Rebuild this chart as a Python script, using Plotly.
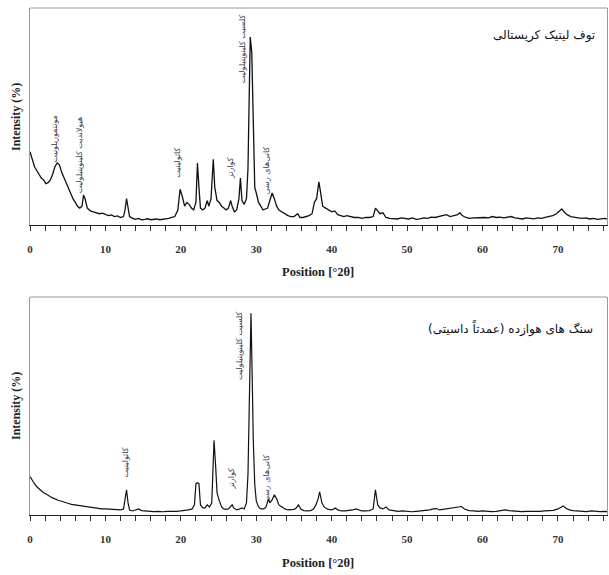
import plotly.graph_objects as go

# ---------------- data ----------------
# Upper panel: crystalline lithic tuff
two_theta_top = [0.0,0.3,0.6,0.9,1.2,1.5,1.8,2.1,2.4,2.7,3.0,3.3,3.6,3.9,4.2,4.5,4.8,5.1,5.4,5.7,6.0,6.3,6.6,6.9,7.1,7.3,7.6,8.0,8.4,8.8,9.2,9.6,10.0,10.4,10.8,11.2,11.6,12.0,12.4,12.6,12.8,13.0,13.2,13.6,14.0,14.4,14.8,15.2,15.6,16.0,16.4,16.8,17.2,17.6,18.0,18.4,18.8,19.2,19.6,19.9,20.2,20.5,20.8,21.1,21.4,21.7,22.0,22.2,22.4,22.6,22.9,23.2,23.5,23.7,24.0,24.3,24.5,24.8,25.1,25.4,25.7,26.0,26.3,26.6,26.8,27.1,27.4,27.7,27.9,28.1,28.4,28.7,28.9,29.1,29.2,29.4,29.6,29.8,30.0,30.3,30.6,30.9,31.2,31.5,31.8,32.1,32.4,32.7,33.0,33.4,33.8,34.2,34.6,35.0,35.5,35.8,36.2,36.6,37.0,37.4,37.7,38.0,38.3,38.5,38.8,39.2,39.6,40.0,40.4,40.8,41.2,41.6,42.0,42.5,43.0,43.5,44.0,44.5,45.0,45.5,45.8,46.1,46.4,46.8,47.2,47.7,48.2,48.7,49.2,49.7,50.2,50.7,51.2,51.7,52.2,52.7,53.2,53.7,54.2,54.7,55.2,55.7,56.2,56.7,57.0,57.3,57.8,58.3,58.8,59.3,59.8,60.3,60.8,61.3,61.8,62.3,62.8,63.3,63.8,64.3,64.8,65.3,65.8,66.3,66.8,67.3,67.8,68.3,68.8,69.3,69.8,70.2,70.5,70.8,71.2,71.7,72.2,72.7,73.2,73.7,74.2,74.7,75.2,75.7,76.2,76.5]
intensity_top = [39,35,31,29,27,25,24,22,22.5,24,27,31,33,32,28,25,22,19,16,14,12,10,9,10,16,14,9,7.5,7,6.5,6,6.3,5.5,5,5.3,4.5,4.8,4,4.5,8,14,8,4.5,3.5,3,3.5,2.8,3,3.3,2.8,3,3.2,2.8,3,3.2,3.5,4,4.5,8,19,15,10,12,11,9,8,12,33,20,9,8,9,13,10,14,35,20,13,12,10,9,8,9,13,10,7,8,14,25,13,11,14,30,80,100,92,45,20,17,12,10,8,8.5,9,13,17,14,10,8,7,6,5,4.5,4.5,6,4,4,4.5,5,6,12,14,23,18,10,9,8,7,7.5,5.5,5,4.5,5,4.5,4,4,3.5,4,4,4.5,9,7.5,6,6.5,4,3.5,3.5,3.2,3.8,3.5,3.2,3.8,3,3.2,3.8,3.5,4.2,4,4.5,5,5.5,4.5,5,5.5,6.5,5,4,3.5,3.8,4,4.2,4,3.8,4.5,4,4.2,3.8,4,4.5,3.8,3.5,3.2,3.8,3.5,3.3,3.8,3.5,4,4.5,5,6,7.5,8.5,7,5.5,4.5,4,3.8,3.5,3.8,3.2,3.5,3,3.2,3.5,3.2]

# Lower panel: weathered rocks (mainly dacitic)
two_theta_bot = [0.0,0.3,0.6,0.9,1.2,1.5,1.8,2.1,2.4,2.7,3.0,3.4,3.8,4.2,4.6,5.0,5.5,6.0,6.5,7.0,7.5,8.0,8.5,9.0,9.5,10.0,10.5,11.0,11.5,12.0,12.4,12.6,12.8,13.0,13.2,13.6,14.0,14.4,14.8,15.2,15.8,16.4,17.0,17.6,18.2,18.8,19.4,20.0,20.5,21.0,21.5,21.8,22.0,22.2,22.4,22.6,22.9,23.2,23.5,23.8,24.1,24.4,24.6,24.8,25.1,25.4,25.7,26.0,26.3,26.6,26.8,27.0,27.4,27.8,28.1,28.4,28.7,28.9,29.1,29.3,29.5,29.6,29.8,30.0,30.3,30.6,31.0,31.3,31.6,31.8,32.1,32.4,32.7,33.0,33.4,33.8,34.2,34.6,35.0,35.3,35.6,35.9,36.3,36.8,37.2,37.6,37.9,38.2,38.4,38.7,39.0,39.4,39.8,40.2,40.5,40.8,41.3,41.8,42.3,42.8,43.2,43.6,44.0,44.5,45.0,45.5,45.8,46.1,46.4,46.8,47.2,47.6,48.2,48.8,49.4,50.0,50.6,51.2,51.8,52.4,53.0,53.5,53.9,54.3,54.8,55.3,55.8,56.3,56.8,57.2,57.6,58.2,58.8,59.4,60.0,60.6,61.2,61.8,62.4,63.0,63.5,64.0,64.6,65.2,65.8,66.4,67.0,67.6,68.2,68.8,69.4,70.0,70.4,70.7,71.0,71.5,72.0,72.6,73.2,73.8,74.4,75.0,75.6,76.2,76.5]
intensity_bot = [19,17,15.5,14,13,12,11,10.5,9.5,9,8.5,7.8,7.2,6.8,6.2,5.8,5.3,5,4.5,4.3,4,3.7,3.5,3.3,3,3,2.8,2.7,2.5,2.5,3,7,12.5,6,2.5,2,2.5,3,2.2,2,1.8,1.7,1.8,1.6,1.8,1.7,1.8,2,2.2,2.5,3,5,15.5,16,15.5,5,3.5,3.5,5,4,6,37,25,11,7,4,3,2.8,3,4,5,3.5,2.5,3,3.5,3,6,20,70,100,60,37,15,7,4,3,3,4,8,6,7.5,10,8,5,4,3,2.5,2.5,2.8,3.5,5,3,2.2,2,2.2,3,5,8,11.5,6,4,3,2.5,2.8,3.5,2.5,2,2,2.2,2.5,3,2.5,2,2,2.2,3,12.5,5,3.5,3,4,2.5,2,1.8,2,1.8,1.6,1.8,2,2.2,2.5,3,3.2,2.5,2.8,3,3.2,3.5,4,4.2,3,2.2,2,1.8,2,1.8,1.7,1.8,2,2.5,2.2,2,1.8,1.7,1.8,1.7,1.6,1.8,2,2,2.3,3,4,4.5,3.5,2.5,2.2,2,1.8,1.7,2,1.8,1.7,1.8,1.7]

# Mineral labels (vertical), their 2θ positions and label-centre heights
labels_top = ["مونتموریلونیت", "هیولاندیت کلینوپتیلولیت", "کائولینیت", "کوارتز", "کلسیت کلینوپتیلولیت", "کانی‌های رسی"]
labels_top_x = [3.3, 6.6, 19.6, 26.6, 28.1, 31.3]
labels_top_y = [46, 37, 33, 30, 94, 29]

labels_bot = ["کائولینیت", "کوارتز", "کلسیت کلینوپتیلولیت", "کانی‌های رسی"]
labels_bot_x = [12.6, 26.8, 27.8, 31.4]
labels_bot_y = [26, 18, 84, 18]

panel_titles = ["توف لیتیک کریستالی", "سنگ های هوازده (عمدتاً داسیتی)"]
x_ticks = [0, 10, 20, 30, 40, 50, 60, 70]
x_title = "Position [°2θ]"
y_title = "Intensity (%)"

# ---------------- figure ----------------
W, H = 609, 575
ml, mr, mt, mb = 30, 2, 8, 60
ph = H - mt - mb

def fy(py):
    return (H - mb - py) / ph

fig = go.Figure()
fig.add_trace(go.Scatter(x=two_theta_top, y=intensity_top, mode="lines",
                         line=dict(color="#111111", width=1.3), xaxis="x", yaxis="y",
                         showlegend=False, hoverinfo="skip"))
fig.add_trace(go.Scatter(x=two_theta_bot, y=intensity_bot, mode="lines",
                         line=dict(color="#111111", width=1.2), xaxis="x2", yaxis="y2",
                         showlegend=False, hoverinfo="skip"))

serif = "Liberation Serif, Times New Roman, serif"
xcommon = dict(range=[0, 76.5], tickvals=x_ticks, ticks="outside", ticklen=5,
               tickcolor="#333", tickwidth=1, showline=True, linecolor="#222",
               linewidth=1.2, showgrid=False, zeroline=False,
               tickfont=dict(family=serif, size=11, color="#333", weight="bold"),
               minor=dict(dtick=2, tick0=0, ticks="outside", ticklen=5, tickcolor="#333"),
               ticklabelstandoff=9)
ycommon = dict(showticklabels=False, ticks="", showline=True, linecolor="#999",
               linewidth=1, mirror=True, showgrid=False, zeroline=False)

fig.update_layout(
    width=W, height=H, margin=dict(l=ml, r=mr, t=mt, b=mb),
    paper_bgcolor="white", plot_bgcolor="white",
    xaxis=dict(domain=[0, 1], anchor="y", **xcommon),
    yaxis=dict(domain=[fy(225), fy(8)], anchor="x", range=[0, 115.4], **ycommon),
    xaxis2=dict(domain=[0, 1], anchor="y2", **xcommon),
    yaxis2=dict(domain=[fy(515), fy(297)], anchor="x2", range=[0, 108], **ycommon),
)

# top border lines (gray frame)
for yd in (fy(8), fy(297)):
    fig.add_shape(type="line", xref="paper", yref="paper", x0=0, x1=1, y0=yd, y1=yd,
                  line=dict(color="#999", width=1))

ann = []
lab_font = dict(family="DejaVu Sans", size=8, color="#3a3a4a")
for t, x, y in zip(labels_top, labels_top_x, labels_top_y):
    ann.append(dict(text=t, x=x, y=y, xref="x", yref="y", showarrow=False,
                    textangle=-90, font=lab_font))
for t, x, y in zip(labels_bot, labels_bot_x, labels_bot_y):
    ann.append(dict(text=t, x=x, y=y, xref="x2", yref="y2", showarrow=False,
                    textangle=-90, font=lab_font))

ann.append(dict(text=panel_titles[0], x=(597 - ml) / (W - ml - mr), y=fy(35), xref="paper", yref="paper",
                xanchor="right", yanchor="middle", showarrow=False,
                font=dict(family="DejaVu Sans", size=12, color="#111")))
ann.append(dict(text=panel_titles[1], x=(595 - ml) / (W - ml - mr), y=fy(328), xref="paper", yref="paper",
                xanchor="right", yanchor="middle", showarrow=False,
                font=dict(family="DejaVu Sans", size=12, color="#111")))

for py in (272, 563):
    ann.append(dict(text="<b>" + x_title + "</b>", x=(318 - ml) / (W - ml - mr), y=fy(py),
                    xref="paper", yref="paper", showarrow=False, xanchor="center", yanchor="middle",
                    font=dict(family=serif, size=12.5, color="#222")))
for py in (117, 406):
    ann.append(dict(text="<b>" + y_title + "</b>", x=(16 - ml) / (W - ml - mr), y=fy(py),
                    xref="paper", yref="paper", showarrow=False, textangle=-90,
                    xanchor="center", yanchor="middle",
                    font=dict(family=serif, size=12, color="#222")))
fig.update_layout(annotations=ann)

fig.write_html("out.html", config={"displayModeBar": False},
               post_script="document.body.style.margin='0';document.body.style.overflow='hidden';")
